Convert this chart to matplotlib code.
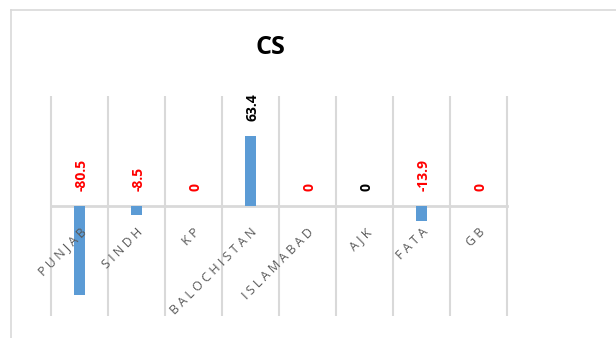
import matplotlib
matplotlib.use("Agg")
import matplotlib.pyplot as plt
from matplotlib.lines import Line2D
import numpy as np

categories = ["PUNJAB", "SINDH", "KP", "BALOCHISTAN", "ISLAMABAD", "AJK", "FATA", "GB"]
values = [-80.5, -8.5, 0, 63.4, 0, 0, -13.9, 0]
label_colors = ["red", "red", "red", "black", "red", "black", "red", "red"]

W, H = 616, 338
plt.rcParams["font.family"] = ["Open Sans", "DejaVu Sans"]

fig = plt.figure(figsize=(W / 100, H / 100), dpi=100)
ax = fig.add_axes([51 / W, 1 - 316 / H, (507 - 51) / W, (316 - 96) / H])

x = np.arange(len(categories))
ax.bar(x, values, width=0.18, color="#5b9bd5", zorder=3)

# category separators
ax.vlines(np.arange(len(categories) + 1) - 0.5, -100, 100,
          colors="#d9d9d9", lw=1.5, clip_on=False, zorder=1)

ax.set_xlim(-0.5, len(categories) - 0.5)
ax.set_ylim(-100, 100)
ax.set_yticks([])
for side in ("top", "right", "left"):
    ax.spines[side].set_visible(False)
ax.spines["bottom"].set_position(("data", 0))
ax.spines["bottom"].set_color("#d9d9d9")
ax.spines["bottom"].set_linewidth(2)
ax.spines["bottom"].set_zorder(2)

ax.set_xticks(x, [" ".join(c) for c in categories], rotation=45, ha="right",
              rotation_mode="anchor", fontsize=9, color="#595959")
ax.tick_params(axis="x", length=0, pad=14)
ax.xaxis.set_zorder(4)  # labels over the bars, as in the original

# data labels
for xi, v, c in zip(x, values, label_colors):
    ax.text(xi + 0.03, max(v, 0) + 14, f"{v:g}", rotation=90, ha="center", va="bottom",
            fontsize=10, fontweight="bold", color=c)

fig.text(270 / W, 1 - 48 / H, "CS", ha="center", va="center",
         fontsize=18, fontweight="bold", color="black")

# chart-area border (left and top edges visible)
fig.add_artist(Line2D([11 / W, 11 / W], [0, 1 - 10 / H], transform=fig.transFigure,
                      color="#d9d9d9", lw=1.2))
fig.add_artist(Line2D([11 / W, 1], [1 - 10 / H, 1 - 10 / H], transform=fig.transFigure,
                      color="#d9d9d9", lw=1.2))

fig.savefig("out.png", dpi=100)
